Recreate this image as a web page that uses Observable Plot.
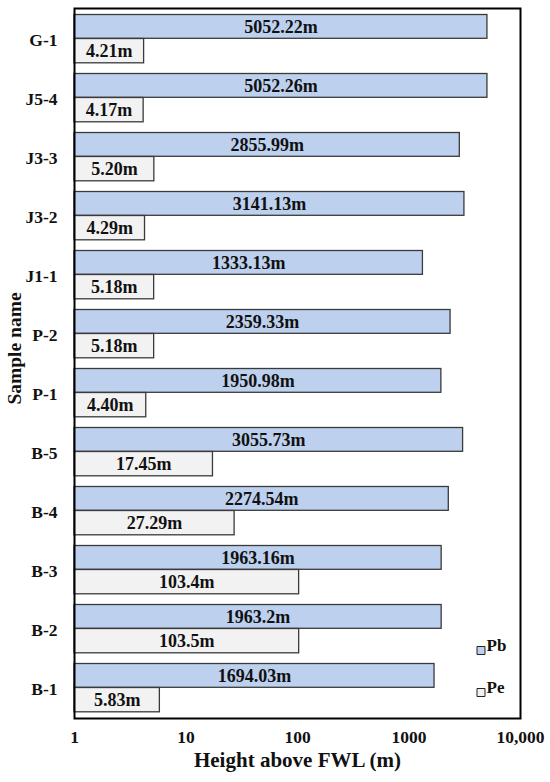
<!DOCTYPE html>
<html>
<head>
<meta charset="utf-8">
<script src="https://cdn.jsdelivr.net/npm/d3@7"></script>
<script src="https://cdn.jsdelivr.net/npm/@observablehq/plot@0.6"></script>
<style>
  html, body { margin: 0; padding: 0; background: #fff; }
  #chart svg, #chart svg text { font-family: "Liberation Serif", "Times New Roman", serif !important; font-weight: bold; }
</style>
</head>
<body>
<div id="chart"></div>
<script>
const categories = ["G-1","J5-4","J3-3","J3-2","J1-1","P-2","P-1","B-5","B-4","B-3","B-2","B-1"];
const pbValues = [5052.22,5052.26,2855.99,3141.13,1333.13,2359.33,1950.98,3055.73,2274.54,1963.16,1963.2,1694.03];
const peValues = [4.21,4.17,5.20,4.29,5.18,5.18,4.40,17.45,27.29,103.4,103.5,5.83];
const pbLabels = ["5052.22m","5052.26m","2855.99m","3141.13m","1333.13m","2359.33m","1950.98m","3055.73m","2274.54m","1963.16m","1963.2m","1694.03m"];
const peLabels = ["4.21m","4.17m","5.20m","4.29m","5.18m","5.18m","4.40m","17.45m","27.29m","103.4m","103.5m","5.83m"];
const xTicks = [1, 10, 100, 1000, 10000];
const xTickLabels = ["1", "10", "100", "1000", "10,000"];
const seriesNames = ["Pb", "Pe"];
const seriesColors = ["#bdd0ee", "#f2f2f2"];

const pbData = categories.map((c, i) => ({cat: c, value: pbValues[i], label: pbLabels[i]}));
const peData = categories.map((c, i) => ({cat: c, value: peValues[i], label: peLabels[i]}));

const barStroke = "#3a3a3a";
const serif = "Liberation Serif";

const chart = Plot.plot({
  width: 550,
  height: 782,
  marginLeft: 74,
  marginRight: 30,
  marginTop: 8,
  marginBottom: 64,
  style: {
    fontFamily: serif,
    fontWeight: "bold",
    fontSize: "17px",
    background: "#fff",
    color: "#111"
  },
  x: {type: "log", domain: [1, 10000]},
  y: {type: "band", domain: categories, padding: 0},
  marks: [
    Plot.barX(pbData, {y: "cat", x1: 1, x2: "value", fill: seriesColors[0], stroke: barStroke, strokeWidth: 1.3, insetTop: 5.5, insetBottom: 29.7}),
    Plot.barX(peData, {y: "cat", x1: 1, x2: "value", fill: seriesColors[1], stroke: barStroke, strokeWidth: 1.3, insetTop: 29.5, insetBottom: 5.2}),
    Plot.text(pbData, {y: "cat", x: d => Math.sqrt(d.value), text: "label", dy: -12, fontSize: 18, fontFamily: serif, fill: "#111"}),
    Plot.text(peData, {y: "cat", x: d => Math.sqrt(d.value), text: "label", dy: 12.5, fontSize: 18, fontFamily: serif, fill: "#111"}),
    Plot.axisX({ticks: xTicks, tickFormat: (d) => xTickLabels[xTicks.indexOf(d)], tickSize: 0, tickPadding: 12, label: null, fontSize: 17.5, fontFamily: serif}),
    Plot.axisY({tickSize: 0, tickPadding: 17, label: null, fontSize: 17.5, fontFamily: serif, dy: 1}),
    Plot.text(["Height above FWL (m)"], {frameAnchor: "bottom", dy: 48, fontSize: 21, fontFamily: serif, fill: "#111"}),
    Plot.text(["Sample name"], {frameAnchor: "left", textAnchor: "middle", dx: -60, dy: -15, rotate: -90, fontSize: 19.5, fontFamily: serif, fill: "#111"}),
    Plot.dot([seriesNames[0]], {frameAnchor: "bottom-right", dx: -39.5, dy: -68, symbol: "square", r: 4.5, fill: seriesColors[0], stroke: "#222", strokeWidth: 1}),
    Plot.dot([seriesNames[1]], {frameAnchor: "bottom-right", dx: -39.5, dy: -26, symbol: "square", r: 4.5, fill: seriesColors[1], stroke: "#222", strokeWidth: 1}),
    Plot.text([seriesNames[0]], {frameAnchor: "bottom-right", dx: -34, dy: -68, textAnchor: "start", fontSize: 17, fontFamily: serif, fill: "#111"}),
    Plot.text([seriesNames[1]], {frameAnchor: "bottom-right", dx: -34, dy: -26, textAnchor: "start", fontSize: 17, fontFamily: serif, fill: "#111"}),
    Plot.frame({stroke: "#000", strokeWidth: 2})
  ]
});
document.getElementById("chart").appendChild(chart);
</script>
</body>
</html>
